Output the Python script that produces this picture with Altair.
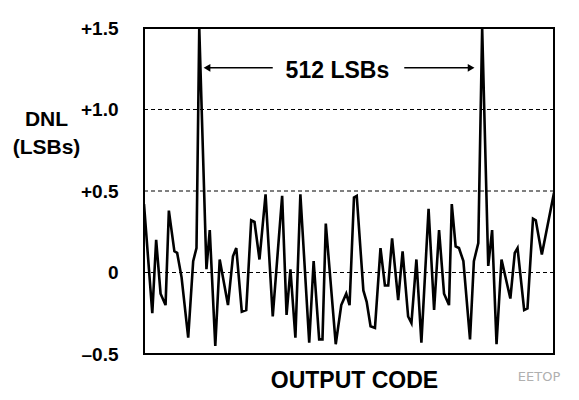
import altair as alt
import pandas as pd

# Output code (x) and DNL in LSBs (y)
codes = [0, 15, 22, 30, 39, 45, 55, 60, 68, 80,
         89, 95, 100, 113, 119, 129, 137, 152, 161, 167,
         177, 185, 194, 200, 209, 220, 233, 250, 258, 265,
         274, 283, 299, 307, 317, 323, 329, 347, 357, 366,
         372, 380, 385, 397, 403, 410, 418, 428, 436, 442,
         449, 460, 468, 478, 484, 493, 502, 515, 525, 534,
         543, 552, 557, 564, 570, 578, 590, 597, 605, 612,
         623, 630, 638, 647, 663, 671, 676, 688, 694, 704,
         709, 720, 742]
dnl = [0.42, -0.25, 0.20, -0.13, -0.20, 0.38, 0.13, 0.12, -0.03, -0.40,
       0.07, 0.15, 1.5, 0.02, 0.26, -0.45, 0.08, -0.20, 0.10, 0.15,
       -0.24, -0.23, 0.32, 0.31, 0.08, 0.48, -0.27, 0.47, -0.26, 0.02,
       -0.40, 0.48, -0.43, 0.07, -0.41, -0.41, 0.30, -0.44, -0.20, -0.13,
       -0.20, 0.46, 0.47, -0.11, -0.18, -0.33, -0.34, 0.15, -0.08, -0.08,
       0.21, -0.17, 0.13, -0.27, -0.31, 0.08, -0.43, 0.39, -0.23, 0.26,
       -0.13, -0.20, 0.42, 0.16, 0.15, 0.07, -0.41, 0.07, 0.18, 1.5,
       0.04, 0.26, -0.44, 0.08, -0.16, 0.12, 0.15, -0.23, -0.22, 0.33,
       0.32, 0.11, 0.49]

y_ticks = [-0.5, 0, 0.5, 1.0, 1.5]
y_labels = ["–0.5", "0", "+0.5", "+1.0", "+1.5"]
grid_levels = [0, 0.5, 1.0]

# Annotation: "512 LSBs" between the two spikes
arrow_from = [233, 471]
arrow_to = [114, 592]
arrow_shape = ["triangle-left", "triangle-right"]
arrow_level = 1.256
note_text = "512 LSBs"
note_x = 350
note_y = 1.236

FONT = "Liberation Sans"

df = pd.DataFrame({"code": codes, "dnl": dnl})
arrows = pd.DataFrame({"x": arrow_from, "x2": arrow_to, "shape": arrow_shape,
                       "y": [arrow_level] * 2})
note = pd.DataFrame({"x": [note_x], "y": [note_y], "t": [note_text]})
grid_df = pd.DataFrame({"g": grid_levels})

label_expr = " : ".join(
    f"abs(datum.value - ({v})) < 0.01 ? '{l}'" for v, l in zip(y_ticks, y_labels)
) + " : datum.label"

xs = alt.Scale(domain=[0, 742], nice=False, zero=False)
ys = alt.Scale(domain=[-0.5, 1.5], nice=False, zero=False)

x_axis = alt.Axis(labels=False, ticks=False, domain=False, grid=False,
                  title="OUTPUT CODE", titleFont=FONT, titleFontSize=23,
                  titleFontWeight="bold", titleColor="black",
                  titleX=210, titleY=33, titleAlign="center",
                  titleBaseline="alphabetic")
y_axis = alt.Axis(values=y_ticks, ticks=False, domain=False, grid=False,
                  labelExpr=label_expr,
                  labelFont=FONT, labelFontSize=19, labelFontWeight="bold",
                  labelColor="black", labelPadding=26, labelBaseline="middle",
                  title=["DNL", "(LSBs)"], titleAngle=0, titleAlign="center",
                  titleBaseline="top", titleX=-98, titleY=80,
                  titleFont=FONT, titleFontSize=21, titleFontWeight="bold",
                  titleColor="black", titleLineHeight=28)

grid = alt.Chart(grid_df).mark_rule(color="black", strokeWidth=1,
                                    strokeDash=[4, 3]).encode(
    y=alt.Y("g:Q", scale=ys)
)

line = alt.Chart(df).mark_line(color="black", strokeWidth=2.6, clip=True).encode(
    x=alt.X("code:Q", scale=xs, axis=x_axis),
    y=alt.Y("dnl:Q", scale=ys, axis=y_axis),
)

rules = alt.Chart(arrows).mark_rule(color="black", strokeWidth=1.5).encode(
    x=alt.X("x:Q", scale=xs), x2="x2:Q", y=alt.Y("y:Q", scale=ys)
)

heads = alt.Chart(arrows).mark_point(filled=True, color="black", size=60, opacity=1).encode(
    x=alt.X("x2:Q", scale=xs), y=alt.Y("y:Q", scale=ys),
    shape=alt.Shape("shape:N", scale=None, legend=None),
)

text = alt.Chart(note).mark_text(font=FONT, fontSize=23, fontWeight="bold",
                                 color="black", align="center",
                                 baseline="middle").encode(
    x=alt.X("x:Q", scale=xs), y=alt.Y("y:Q", scale=ys), text="t:N"
)

wm = alt.Chart(pd.DataFrame({"t": ["EETOP"]})).mark_text(
    font="DejaVu Sans", fontSize=13, color="#b0b0b0", align="center",
    baseline="middle").encode(
    x=alt.value(395), y=alt.value(349), text="t:N"
)

chart = alt.layer(grid, line, rules, heads, text, wm).properties(
    width=410, height=326, autosize="none", background="white",
    padding={"left": 136, "top": 20, "right": 17, "bottom": 38},
).configure_view(stroke="black", strokeWidth=2)

chart.save("out.html", embed_options={"renderer": "svg", "actions": False})
